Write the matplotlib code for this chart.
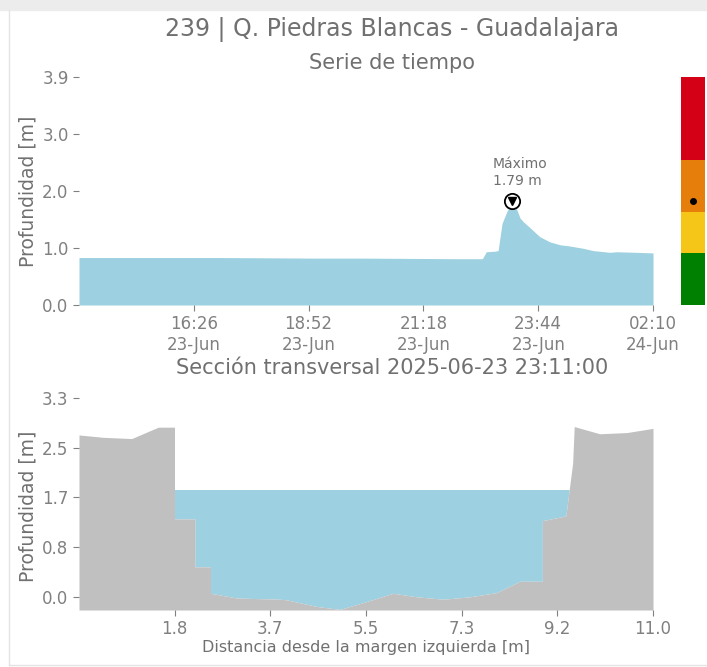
import pandas as pd
import numpy as np
import matplotlib
matplotlib.use('Agg')
import matplotlib.pyplot as plt
from matplotlib.patches import Rectangle
from matplotlib.lines import Line2D

# time series (depth in m)
times = ['2025-06-23 14:00', '2025-06-23 15:00', '2025-06-23 16:00', '2025-06-23 17:00',
         '2025-06-23 18:00', '2025-06-23 19:00', '2025-06-23 20:00', '2025-06-23 21:00',
         '2025-06-23 22:00', '2025-06-23 22:33', '2025-06-23 22:38', '2025-06-23 22:49',
         '2025-06-23 22:53', '2025-06-23 22:58', '2025-06-23 23:04', '2025-06-23 23:11',
         '2025-06-23 23:17', '2025-06-23 23:21', '2025-06-23 23:25', '2025-06-23 23:34',
         '2025-06-23 23:46', '2025-06-23 23:59', '2025-06-24 00:12', '2025-06-24 00:24',
         '2025-06-24 00:41', '2025-06-24 00:54', '2025-06-24 01:15', '2025-06-24 01:24',
         '2025-06-24 01:49', '2025-06-24 02:10']
depth = [0.82, 0.82, 0.82, 0.82, 0.815, 0.81, 0.81, 0.805, 0.80, 0.80, 0.92, 0.93,
         0.94, 1.41, 1.61, 1.79, 1.64, 1.50, 1.44, 1.33, 1.18, 1.09, 1.04, 1.02,
         0.98, 0.94, 0.91, 0.92, 0.91, 0.90]
max_time = '2025-06-23 23:11'
max_depth = 1.79

# alert levels (m)
level_bounds = [0.0, 0.9, 1.6, 2.5, 3.94]
level_colors = ['#008000', '#f5c518', '#e67e0b', '#d40016']

# cross section
dist = [0.0, 0.47, 1.01, 1.52, 1.83, 1.83, 2.22, 2.22, 2.52, 2.52, 3.02, 3.85, 3.98,
        4.55, 5.0, 5.51, 6.02, 6.47, 6.98, 7.49, 8.0, 8.45, 8.88, 8.88, 9.33, 9.46,
        9.49, 9.98, 10.5, 11.0]
ground = [2.70, 2.66, 2.64, 2.83, 2.83, 1.30, 1.30, 0.50, 0.50, 0.06, -0.02, -0.04, -0.05,
          -0.16, -0.21, -0.08, 0.06, 0.0, -0.04, 0.0, 0.07, 0.26, 0.26, 1.27, 1.35, 2.23,
          2.84, 2.72, 2.74, 2.81]
water_level = 1.79

water_color = '#9dd0e0'
ground_color = '#c0c0c0'
text_color = '#707070'
tick_color = '#808080'

W, H = 707, 667
fig = plt.figure(figsize=(W / 100, H / 100), dpi=100)
fig.patch.set_facecolor('white')

def px_axes(x0, y0, x1, y1):
    return fig.add_axes([x0 / W, 1 - y1 / H, (x1 - x0) / W, (y1 - y0) / H])

def style(ax):
    for s in ax.spines.values():
        s.set_visible(False)
    ax.tick_params(colors=tick_color, labelsize=12, length=4, width=0.8)

# frame decorations
fig.patches.append(Rectangle((0, 1 - 10 / H), 1, 10 / H, transform=fig.transFigure,
                             color='#ececec', zorder=0))
fig.lines.append(Line2D([8.5 / W, 8.5 / W], [2 / H, 1 - 10 / H], transform=fig.transFigure,
                        color='#e4e4e4', lw=1))
fig.lines.append(Line2D([8.5 / W, 1], [2 / H, 2 / H], transform=fig.transFigure,
                        color='#e4e4e4', lw=1))

# --- time series ---
t = pd.to_datetime(times)
ax1 = px_axes(79, 77, 653, 305)
style(ax1)
ax1.fill_between(t, 0, depth, color=water_color, lw=0)
ax1.set_xlim(t[0], t[-1])
ax1.set_ylim(0, 3.94)
yt = np.linspace(0, 3.94, 5)
ax1.set_yticks(yt)
ax1.set_yticklabels(['%.1f' % v for v in yt])
xt = pd.date_range(t[0], t[-1], periods=6)[1:]
ax1.set_xticks(xt)
ax1.set_xticklabels([d.strftime('%H:%M\n%d-%b') for d in xt])
ax1.set_ylabel('Profundidad [m]', color=text_color, fontsize=13.5)
ax1.yaxis.set_label_coords(-42 / 574, 0.5)

tm = pd.Timestamp(max_time)
ax1.plot([tm], [max_depth], 'o', ms=11, mfc='white', mec='black', mew=1.3, zorder=5)
ax1.plot([tm], [max_depth], 'v', ms=6, color='black', zorder=6)
ax1.annotate('Máximo\n%.2f m' % max_depth, (tm, max_depth), xytext=(-14, 10),
             textcoords='offset points', ha='left', va='bottom', fontsize=10,
             color=text_color)

# --- alert bar ---
axc = px_axes(681, 77, 705, 305)
for lo, hi, c in zip(level_bounds[:-1], level_bounds[1:], level_colors):
    axc.bar(0.5, hi - lo, bottom=lo, width=1, color=c, lw=0)
axc.plot([0.5], [max_depth], 'o', color='black', ms=4)
axc.set_xlim(0, 1)
axc.set_ylim(0, 3.94)
axc.axis('off')

# --- cross section ---
ax2 = px_axes(79, 390, 653, 610)
style(ax2)
d = np.array(dist)
g = np.array(ground)
ax2.fill_between(d, g, water_level, where=g <= water_level, interpolate=True,
                 color=water_color, lw=0)
ax2.fill_between(d, -0.22, g, color=ground_color, lw=0)
ax2.set_xlim(0, 11.0)
ax2.set_ylim(-0.22, 3.45)
yt2 = np.linspace(0, 3.32, 5)
ax2.set_yticks(yt2)
ax2.set_yticklabels(['%.1f' % v for v in yt2])
xt2 = np.linspace(0, 11.0, 7)[1:]
ax2.set_xticks(xt2)
ax2.set_xticklabels(['%.1f' % v for v in xt2])
ax2.set_ylabel('Profundidad [m]', color=text_color, fontsize=13.5)
ax2.yaxis.set_label_coords(-42 / 574, (610 - 506) / 220)
ax2.set_xlabel('Distancia desde la margen izquierda [m]', color=text_color, fontsize=11.5)
ax2.xaxis.set_label_coords(0.5, -(640 - 610) / 220)

# titles
cx = 392 / W
fig.text(cx, 1 - 30 / H, '239 | Q. Piedras Blancas - Guadalajara', ha='center', va='center',
         fontsize=17, color=text_color)
fig.text(cx, 1 - 63 / H, 'Serie de tiempo', ha='center', va='center', fontsize=15,
         color=text_color)
fig.text(cx, 1 - 368 / H, 'Sección transversal 2025-06-23 23:11:00', ha='center',
         va='center', fontsize=15, color=text_color)

fig.savefig('out.png', dpi=100)
